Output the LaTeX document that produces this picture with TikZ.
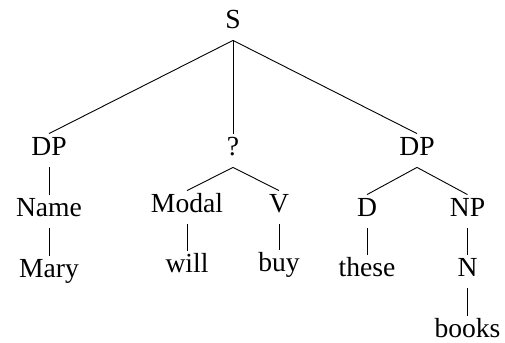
\documentclass[tikz,border=0pt]{standalone}
\usepackage{fontspec}
\setmainfont{Liberation Serif}
\usepackage{tikz}

\begin{document}
\begin{tikzpicture}[x=0.5pt,y=-0.5pt,
  font=\fontsize{13.8}{16}\selectfont,
  lbl/.style={anchor=base, inner sep=1.5pt, text height=9pt, text depth=4.5pt},
  branch/.style={line width=0.45pt}]
\useasboundingbox (0,0) rectangle (505,343);
\node[lbl] (s) at (233,28) {S};
\node[lbl] (dpa) at (49,155) {DP};
\node[lbl] (q) at (233,155) {?};
\node[lbl] (dpb) at (417,155) {DP};
\node[lbl] (name) at (49,216) {Name};
\node[lbl] (modal) at (187,212) {Modal};
\node[lbl] (v) at (279,212) {V};
\node[lbl] (d) at (367,216) {D};
\node[lbl] (np) at (467.5,216) {NP};
\node[lbl] (mary) at (49,277) {Mary};
\node[lbl] (will) at (187,272) {will};
\node[lbl] (buy) at (279,271) {buy};
\node[lbl] (these) at (367,276) {these};
\node[lbl] (n) at (467.5,276) {N};
\node[lbl] (books) at (467.5,337) {books};
\draw[branch] (s.south) -- (dpa.north);
\draw[branch] (s.south) -- (q.north);
\draw[branch] (s.south) -- (dpb.north);
\draw[branch] (dpa.south) -- (name.north);
\draw[branch] (name.south) -- (mary.north);
\draw[branch] (q.south) -- (modal.north);
\draw[branch] (q.south) -- (v.north);
\draw[branch] (modal.south) -- (will.north);
\draw[branch] (v.south) -- (buy.north);
\draw[branch] (dpb.south) -- (d.north);
\draw[branch] (dpb.south) -- (np.north);
\draw[branch] (d.south) -- (these.north);
\draw[branch] (np.south) -- (n.north);
\draw[branch] (n.south) -- (books.north);
\end{tikzpicture}
\end{document}
